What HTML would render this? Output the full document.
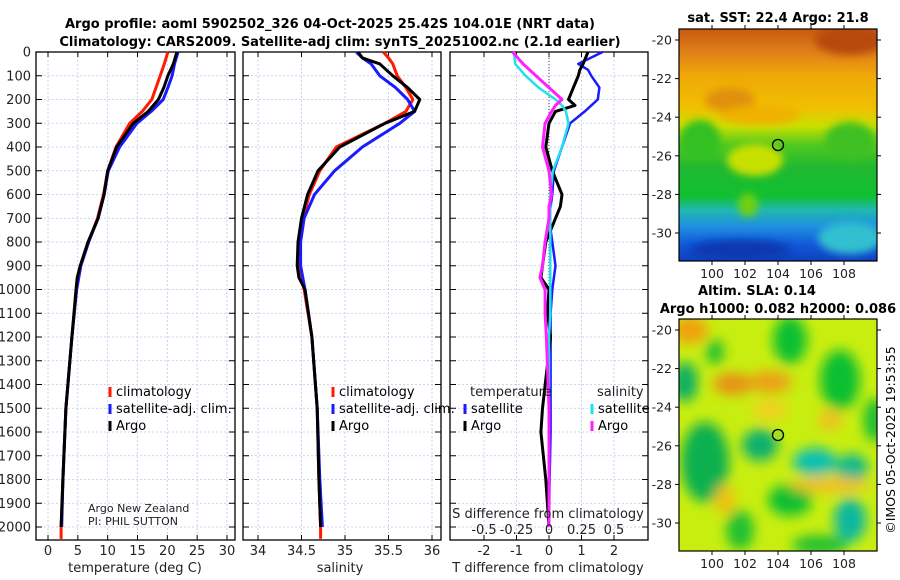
<!DOCTYPE html>
<html><head><meta charset="utf-8">
<style>
html,body{margin:0;padding:0;background:#fff;}
svg{display:block;font-family:"DejaVu Sans","Liberation Sans",sans-serif;}
</style></head>
<body>
<svg id="fig" width="900" height="580" viewBox="0 0 900 580">
<defs>
<filter id="blur6" x="-50%" y="-50%" width="200%" height="200%"><feGaussianBlur stdDeviation="6"/></filter>
<filter id="blur3" x="-50%" y="-50%" width="200%" height="200%"><feGaussianBlur stdDeviation="4"/></filter>
<linearGradient id="sstgrad" x1="0" y1="0" x2="0" y2="1">
<stop offset="0" stop-color="#c85a10"/><stop offset="0.1" stop-color="#e0801a"/>
<stop offset="0.2" stop-color="#f0a808"/><stop offset="0.34" stop-color="#f0c000"/>
<stop offset="0.42" stop-color="#c8e000"/><stop offset="0.5" stop-color="#50c820"/>
<stop offset="0.6" stop-color="#20b830"/><stop offset="0.72" stop-color="#10c030"/>
<stop offset="0.78" stop-color="#20b8b0"/><stop offset="0.85" stop-color="#2090e0"/>
<stop offset="0.93" stop-color="#1058d8"/><stop offset="1" stop-color="#1040c0"/>
</linearGradient>
<clipPath id="clipm1"><rect x="679" y="29" width="198" height="232"/></clipPath>
<clipPath id="clipm2"><rect x="679" y="319" width="198" height="232"/></clipPath>
</defs>
<text x="330" y="28" text-anchor="middle" font-size="13" font-weight="bold">Argo profile: aoml 5902502_326 04-Oct-2025 25.42S 104.01E (NRT data)</text>
<text x="340" y="46" text-anchor="middle" font-size="13" font-weight="bold">Climatology: CARS2009. Satellite-adj clim: synTS_20251002.nc (2.1d earlier)</text>
<g id="p1"></g>
<g id="p2"></g>
<g id="p3"></g>

<g>
<text x="778" y="22" text-anchor="middle" font-size="13" font-weight="bold">sat. SST: 22.4 Argo: 21.8</text>
<g clip-path="url(#clipm1)">
<rect x="679" y="29" width="198" height="232" fill="url(#sstgrad)"/>
<g filter="url(#blur3)">
<ellipse cx="850" cy="40" rx="35" ry="15" fill="#b84808"/>
<ellipse cx="730" cy="100" rx="25" ry="12" fill="#e09010"/>
<ellipse cx="760" cy="115" rx="40" ry="10" fill="#f0b000"/>
<ellipse cx="700" cy="140" rx="20" ry="20" fill="#30c020"/>
<ellipse cx="850" cy="140" rx="25" ry="18" fill="#40c020"/>
<ellipse cx="755" cy="160" rx="28" ry="16" fill="#c8e000"/>
<ellipse cx="748" cy="205" rx="10" ry="12" fill="#70d010"/>
<ellipse cx="850" cy="238" rx="32" ry="16" fill="#30c0d0"/>
<ellipse cx="740" cy="250" rx="50" ry="10" fill="#0838b0"/>
</g>
</g>
<rect x="679" y="29" width="198" height="232" fill="none" stroke="#000" stroke-width="1.2"/>
<circle cx="778" cy="145" r="5.5" fill="none" stroke="#000" stroke-width="1.3"/>
<g id="m1ax"></g>
</g>

<g>
<text x="757" y="295" text-anchor="middle" font-size="13" font-weight="bold">Altim. SLA: 0.14</text>
<text x="778" y="313" text-anchor="middle" font-size="13" font-weight="bold">Argo h1000: 0.082 h2000: 0.086</text>
<g clip-path="url(#clipm2)">
<rect x="679" y="319" width="198" height="232" fill="#c8ee10"/>
<g filter="url(#blur6)">
<ellipse cx="690" cy="330" rx="18" ry="14" fill="#f0a010"/>
<ellipse cx="733" cy="384" rx="20" ry="11" fill="#e89018"/>
<ellipse cx="770" cy="382" rx="22" ry="11" fill="#eca018"/>
<ellipse cx="790" cy="340" rx="17" ry="24" fill="#10c030"/>
<ellipse cx="715" cy="352" rx="9" ry="13" fill="#20c030"/>
<ellipse cx="685" cy="382" rx="13" ry="20" fill="#10b060"/>
<ellipse cx="840" cy="380" rx="20" ry="30" fill="#10c030"/>
<ellipse cx="875" cy="420" rx="12" ry="22" fill="#20c030"/>
<ellipse cx="760" cy="445" rx="18" ry="16" fill="#10b070"/>
<ellipse cx="705" cy="462" rx="24" ry="40" fill="#10b050"/>
<ellipse cx="815" cy="462" rx="22" ry="14" fill="#10c0b0"/>
<ellipse cx="852" cy="468" rx="16" ry="14" fill="#10b890"/>
<ellipse cx="790" cy="500" rx="22" ry="16" fill="#10c030"/>
<ellipse cx="850" cy="520" rx="16" ry="22" fill="#10b8a0"/>
<ellipse cx="740" cy="530" rx="14" ry="20" fill="#20c030"/>
<ellipse cx="820" cy="545" rx="28" ry="10" fill="#20c030"/>
<ellipse cx="770" cy="410" rx="18" ry="10" fill="#f0d020"/>
<ellipse cx="830" cy="420" rx="12" ry="10" fill="#f0c020"/>
<ellipse cx="725" cy="500" rx="10" ry="15" fill="#f0c010"/>
<ellipse cx="830" cy="485" rx="40" ry="8" fill="#f0c020"/>
</g>
</g>
<rect x="679" y="319" width="198" height="232" fill="none" stroke="#000" stroke-width="1.2"/>
<circle cx="778" cy="435" r="5.5" fill="#a0e020" stroke="#000" stroke-width="1.3"/>
<g id="m2ax"></g>
</g>
<text transform="translate(895,440) rotate(-90)" text-anchor="middle" font-size="12.5">©IMOS 05-Oct-2025 19:53:55</text>
</svg>
<script>
// ---- data ----
var depthTicks = [0,100,200,300,400,500,600,700,800,900,1000,1100,1200,1300,1400,1500,1600,1700,1800,1900,2000];
var tempTicks = [0,5,10,15,20,25,30];
var salTicks = [34,34.5,35,35.5,36];
var tdiffTicks = [-2,-1,0,1,2];
var sdiffTicks = [-0.5,-0.25,0,0.25,0.5];
var sdiffTickLabels = ["-0.5","-0.25","0","0.25","0.5"];

var argoDepth = [0,25,50,100,150,200,250,300,400,500,600,700,800,900,950,1000,1200,1500,1800,2000];
var argoTemp  = [21.6,21.3,21.0,20.1,19.4,18.5,16.8,14.3,11.5,10.0,9.4,8.4,6.7,5.4,4.9,4.7,4.0,3.0,2.5,2.2];
var argoSal   = [35.15,35.2,35.4,35.55,35.72,35.86,35.8,35.46,34.94,34.69,34.57,34.5,34.46,34.45,34.47,34.54,34.62,34.68,34.70,34.72];

var climDepth = [0,25,50,100,150,200,250,300,400,500,600,700,800,900,1000,1200,1500,1800,2000,2050];
var climTemp  = [20.1,19.8,19.5,18.8,18.1,17.4,15.8,13.7,11.4,10.0,9.3,8.3,6.8,5.5,4.8,4.0,3.0,2.5,2.2,2.2];
var climSal   = [35.44,35.5,35.55,35.6,35.7,35.78,35.7,35.46,34.9,34.71,34.59,34.52,34.48,34.47,34.53,34.62,34.68,34.70,34.72,34.72];

var satDepth = [0,25,50,100,150,200,250,300,400,500,600,700,800,900,1000,1200,1500,1800,2000];
var satTemp  = [21.8,21.5,21.2,20.8,20.1,19.3,17.3,14.9,12.0,10.1,9.4,8.4,6.8,5.5,4.8,4.0,3.0,2.5,2.3];
var satSal   = [35.13,35.2,35.3,35.4,35.58,35.72,35.8,35.63,35.2,34.88,34.65,34.53,34.49,34.49,34.54,34.62,34.68,34.71,34.74];

var diffDepth = [0,50,75,100,150,200,225,250,300,400,500,600,650,700,800,900,950,1000,1100,1200,1500,1600,1800,2000];
var argoTdiff = [1.2,1.05,0.95,0.9,0.75,0.6,0.8,0.2,0.0,-0.1,0.1,0.4,0.35,0.2,-0.1,-0.2,-0.25,0.0,-0.05,0.05,-0.2,-0.25,-0.1,0.0];
var satTdiff  = [1.65,0.9,1.2,1.3,1.55,1.5,1.3,1.1,0.65,0.4,0.15,0.1,0.05,0.0,0.1,0.2,0.15,0.1,0.05,0.05,0.05,0.05,0.02,0.0];
var satSdiff  = [-0.27,-0.26,-0.22,-0.18,-0.08,0.05,0.1,0.13,0.15,0.1,0.03,0.01,0.01,0.01,0.01,0.01,0.01,0.01,0.01,0.0,0.0,0.0,0.0,0.0];
var argoSdiff = [-0.28,-0.2,-0.15,-0.1,0.0,0.1,0.05,0.02,-0.03,-0.05,0.0,0.02,0.0,0.0,-0.03,-0.05,-0.07,-0.03,-0.03,-0.02,0.0,0.0,0.0,0.0];

var mapLonTicks = [100,102,104,106,108];
var mapLatTicks = [-20,-22,-24,-26,-28,-30];

// ---- helpers ----
var NS = "http://www.w3.org/2000/svg";
function mk(tag, attrs, parent){ var e=document.createElementNS(NS,tag); for(var k in attrs) e.setAttribute(k,attrs[k]); parent.appendChild(e); return e; }
var TOP=52, BOT=540;
function yDepth(d){ return TOP + d*0.2375; }
function linX(v0,x0,v1,x1){ return function(v){ return x0 + (v-v0)*(x1-x0)/(v1-v0); }; }

function panel(g, L, R, showY, xTicks, xFn){
  for (var i=0;i<xTicks.length;i++){
    var x=xFn(xTicks[i]);
    var gl=mk('line',{x1:x,x2:x,y1:TOP,y2:BOT,stroke:'#b8c8f0','stroke-width':0.8,'stroke-dasharray':'2,2'},g);
    
    
    mk('line',{x1:x,x2:x,y1:BOT,y2:BOT-5,stroke:'#000','stroke-width':1},g);
    mk('line',{x1:x,x2:x,y1:TOP,y2:TOP+5,stroke:'#000','stroke-width':1},g);
  }
  for (var j=0;j<depthTicks.length;j++){
    var y=yDepth(depthTicks[j]);
    var hl=mk('line',{x1:L,x2:R,y1:y,y2:y,stroke:'#b8c8f0','stroke-width':0.8,'stroke-dasharray':'2,2'},g);
    
    
    mk('line',{x1:L,x2:L+6,y1:y,y2:y,stroke:'#000','stroke-width':1},g);
    mk('line',{x1:R,x2:R-6,y1:y,y2:y,stroke:'#000','stroke-width':1},g);
    if(showY){
      var t=mk('text',{x:L-5,y:y+4.5,'text-anchor':'end','font-size':13,fill:'#222'},g);
      t.textContent=depthTicks[j];
      
      
    }
  }
  var fr=mk('rect',{x:L,y:TOP,width:R-L,height:BOT-TOP,fill:'none',stroke:'#000','stroke-width':1.3},g);
  
  
}
function xLabels(g, ticks, labels, xFn, y){
  for (var i=0;i<ticks.length;i++){
    var t=mk('text',{x:xFn(ticks[i]),y:y,'text-anchor':'middle','font-size':13,fill:'#222'},g);
    t.textContent=labels?labels[i]:ticks[i];
    
    
  }
}
function series(g, depths, vals, xFn, color, w, name){
  var pts=[];
  for (var i=0;i<vals.length;i++) pts.push(xFn(vals[i]).toFixed(1)+','+yDepth(depths[i]).toFixed(1));
  var p=mk('polyline',{points:pts.join(' '),fill:'none',stroke:color,'stroke-width':w,'stroke-linejoin':'round'},g);
  
  
}
function legend(g, x, y, color, label, name){
  var m=mk('line',{x1:x,x2:x,y1:y-9,y2:y+1,stroke:color,'stroke-width':3},g);
  
  
  var t=mk('text',{x:x+6,y:y,'font-size':13},g);
  t.textContent=label;
  
  
}
function label(g,x,y,txt,name,size,anchor){
  var t=mk('text',{x:x,y:y,'text-anchor':anchor||'middle','font-size':size||13,fill:'#222'},g);
  t.textContent=txt;
  
  
}

// ---- panel 1: temperature ----
var g1=document.getElementById('p1');
var xT=linX(0,48,30,227);
panel(g1,36,235,true,tempTicks,xT);
xLabels(g1,tempTicks,null,xT,555);
label(g1,135,572,'temperature (deg C)','temperature-axis-title');
series(g1,climDepth,climTemp,xT,'#ff1a00',3,'climatology-temperature-line');
series(g1,satDepth,satTemp,xT,'#1a1aff',3,'satellite-temperature-line');
series(g1,argoDepth,argoTemp,xT,'#000',3,'argo-temperature-line');
legend(g1,110,396,'#ff1a00','climatology','legend-climatology');
legend(g1,110,413,'#1a1aff','satellite-adj. clim.','legend-satellite');
legend(g1,110,430,'#000','Argo','legend-argo');
label(g1,88,512,'Argo New Zealand','argo-institution',11,'start');
label(g1,88,525,'PI: PHIL SUTTON','argo-pi',11,'start');

// ---- panel 2: salinity ----
var g2=document.getElementById('p2');
var xS=linX(34,258,36,432);
panel(g2,243,441,false,salTicks,xS);
xLabels(g2,salTicks,null,xS,555);
label(g2,340,572,'salinity','salinity-axis-title');
series(g2,climDepth,climSal,xS,'#ff1a00',3,'climatology-salinity-line');
series(g2,satDepth,satSal,xS,'#1a1aff',3,'satellite-salinity-line');
series(g2,argoDepth,argoSal,xS,'#000',3,'argo-salinity-line');
legend(g2,333,396,'#ff1a00','climatology','legend-climatology-2');
legend(g2,333,413,'#1a1aff','satellite-adj. clim.','legend-satellite-2');
legend(g2,333,430,'#000','Argo','legend-argo-2');

// ---- panel 3: differences ----
var g3=document.getElementById('p3');
var xTd=linX(-2,484,2,614);
var xSd=linX(-0.5,484,0.5,614);
panel(g3,450,648,false,tdiffTicks,xTd);
mk('line',{x1:xTd(0),x2:xTd(0),y1:TOP,y2:BOT,stroke:'#444','stroke-width':1,'stroke-dasharray':'1,2'},g3);
xLabels(g3,tdiffTicks,null,xTd,555);
label(g3,548,572,'T difference from climatology','tdiff-axis-title');
series(g3,diffDepth,satTdiff,xTd,'#1a1aff',2.5,'satellite-tdiff-line');
series(g3,diffDepth,argoTdiff,xTd,'#000',3,'argo-tdiff-line');
series(g3,diffDepth,satSdiff,xSd,'#20e0f0',2.5,'satellite-sdiff-line');
series(g3,diffDepth,argoSdiff,xSd,'#ff20ff',3,'argo-sdiff-line');
label(g3,548,518,'S difference from climatology','sdiff-axis-title');
xLabels(g3,sdiffTicks,sdiffTickLabels,xSd,534);
label(g3,470,396,'temperature','legend-temperature-heading',13,'start');
legend(g3,465,413,'#1a1aff','satellite','legend-tdiff-satellite');
legend(g3,465,430,'#000','Argo','legend-tdiff-argo');
label(g3,597,396,'salinity','legend-salinity-heading',13,'start');
legend(g3,592,413,'#20e0f0','satellite','legend-sdiff-satellite');
legend(g3,592,430,'#ff20ff','Argo','legend-sdiff-argo');

// ---- map axes ----
var xLon=linX(100,712,108,844);
function mapAxes(id, top, bottom, lat20, perDeg){
  var g=document.getElementById(id);
  for (var i=0;i<mapLonTicks.length;i++){
    var x=xLon(mapLonTicks[i]);
    mk('line',{x1:x,x2:x,y1:bottom,y2:bottom+4,stroke:'#000'},g);
    mk('line',{x1:x,x2:x,y1:top,y2:top-4,stroke:'#000'},g);
    var t=mk('text',{x:x,y:bottom+17,'text-anchor':'middle','font-size':12.5,fill:'#222'},g);
    t.textContent=mapLonTicks[i];
    
    
  }
  for (var j=0;j<mapLatTicks.length;j++){
    var y=lat20+(-20-mapLatTicks[j])*perDeg;
    mk('line',{x1:679,x2:675,y1:y,y2:y,stroke:'#000'},g);
    mk('line',{x1:877,x2:881,y1:y,y2:y,stroke:'#000'},g);
    var t2=mk('text',{x:672,y:y+4.5,'text-anchor':'end','font-size':12.5,fill:'#222'},g);
    t2.textContent=mapLatTicks[j];
    
    
  }
}
mapAxes('m1ax',29,261,40,19.3);
mapAxes('m2ax',319,551,330,19.3);
</script>
</body></html>
